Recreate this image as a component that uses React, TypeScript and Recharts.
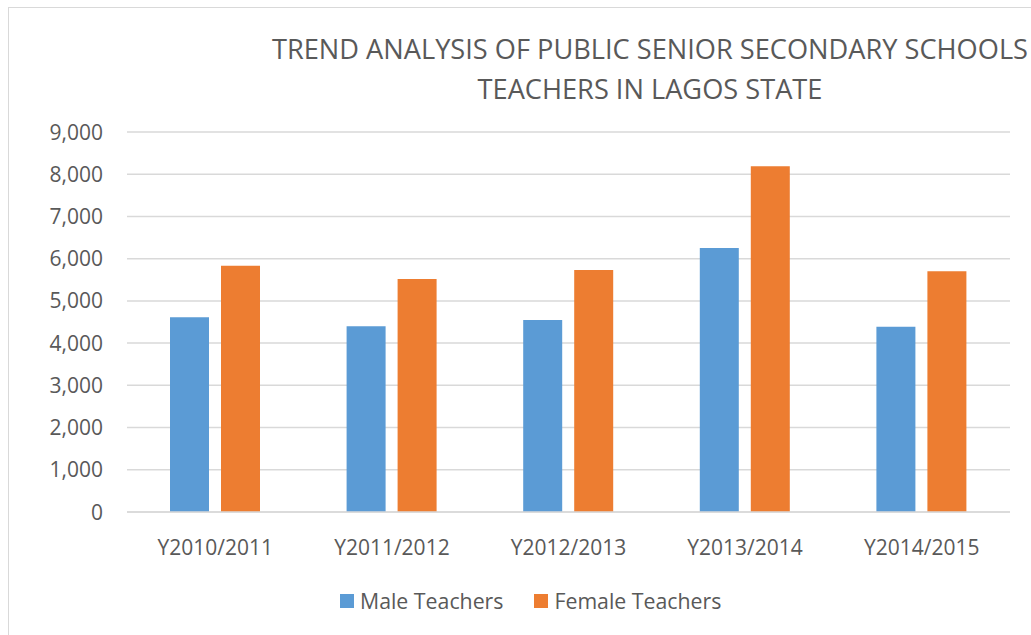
import { BarChart, Bar, XAxis, YAxis, CartesianGrid } from 'recharts';

const years = ['Y2010/2011', 'Y2011/2012', 'Y2012/2013', 'Y2013/2014', 'Y2014/2015'];
const maleTeachers = [4610, 4400, 4550, 6250, 4390];
const femaleTeachers = [5830, 5520, 5730, 8190, 5700];
const yTicks = [0, 1000, 2000, 3000, 4000, 5000, 6000, 7000, 8000, 9000];

const data = years.map((year, i) => ({
  year,
  male: maleTeachers[i],
  female: femaleTeachers[i],
}));

const FONT = '"Open Sans", sans-serif';
const GREY = '#595959';
const BLUE = '#5B9BD5';
const ORANGE = '#ED7D31';

const legendItems = [
  { label: 'Male Teachers', color: BLUE },
  { label: 'Female Teachers', color: ORANGE },
];

function XTick({ x, y, payload }: any) {
  return (
    <text x={x} y={y + 35} textAnchor="middle" fill={GREY} fontSize={21} fontFamily={FONT}>
      {payload.value}
    </text>
  );
}

function YTick({ y, payload }: any) {
  return (
    <text x={94} y={y} dy="0.36em" textAnchor="end" fill={GREY} fontSize={21} fontFamily={FONT}>
      {payload.value.toLocaleString('en-US')}
    </text>
  );
}

export default function App() {
  return (
    <div
      style={{
        position: 'fixed',
        left: 8,
        top: 7,
        width: 1024,
        height: 627,
        borderTop: '1px solid #d9d9d9',
        borderLeft: '1px solid #d9d9d9',
        overflow: 'hidden',
        background: '#fff',
      }}
    >
      <div
        style={{
          position: 'absolute',
          left: 0,
          top: 21,
          width: 1282,
          textAlign: 'center',
          fontFamily: FONT,
          fontSize: 27.2,
          lineHeight: '40px',
          color: GREY,
          whiteSpace: 'nowrap',
          zIndex: 2,
        }}
      >
        TREND ANALYSIS OF PUBLIC SENIOR SECONDARY SCHOOLS
        <br />
        TEACHERS IN LAGOS STATE
      </div>
      <BarChart
        width={1022}
        height={626}
        data={data}
        margin={{ top: 124, right: 21, bottom: 82, left: 0 }}
        barGap={12}
      >
        <CartesianGrid vertical={false} stroke="#d9d9d9" strokeWidth={1.5} />
        <XAxis
          dataKey="year"
          height={40}
          tick={<XTick />}
          tickLine={false}
          axisLine={{ stroke: '#d9d9d9', strokeWidth: 1.5 }}
        />
        <YAxis
          width={118}
          domain={[0, 9000]}
          ticks={yTicks}
          tick={<YTick />}
          tickLine={false}
          axisLine={false}
        />
        <Bar dataKey="male" name="Male Teachers" fill={BLUE} barSize={39} isAnimationActive={false} />
        <Bar dataKey="female" name="Female Teachers" fill={ORANGE} barSize={39} isAnimationActive={false} />
      </BarChart>
      <div
        style={{
          position: 'absolute',
          left: 331,
          top: 578,
          display: 'flex',
          fontFamily: FONT,
          whiteSpace: 'nowrap',
        }}
      >
        {legendItems.map((it, i) => (
          <div key={it.label} style={{ display: 'flex', alignItems: 'center', marginLeft: i === 0 ? 0 : 31 }}>
            <span style={{ width: 14, height: 14, background: it.color, display: 'inline-block', marginRight: 6 }} />
            <span style={{ fontSize: 21.3, color: GREY }}>{it.label}</span>
          </div>
        ))}
      </div>
    </div>
  );
}
